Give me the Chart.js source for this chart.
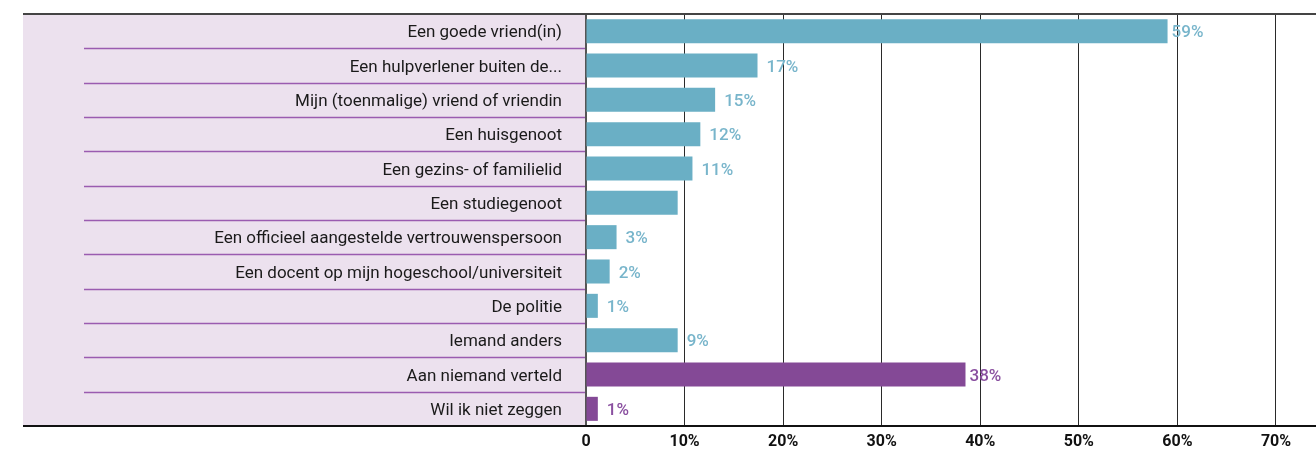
<!DOCTYPE html>
<html>
<head>
<meta charset="utf-8">
<script src="https://cdn.jsdelivr.net/npm/chart.js@4/dist/chart.umd.min.js"></script>
<style>
  html, body { margin: 0; padding: 0; background: #fff; }
  #wrap { width: 1316px; height: 450px; position: relative; }
</style>
</head>
<body>
<div id="wrap"><canvas id="myChart"></canvas></div>
<script>
const categories = [
  "Een goede vriend(in)",
  "Een hulpverlener buiten de...",
  "Mijn (toenmalige) vriend of vriendin",
  "Een huisgenoot",
  "Een gezins- of familielid",
  "Een studiegenoot",
  "Een officieel aangestelde vertrouwenspersoon",
  "Een docent op mijn hogeschool/universiteit",
  "De politie",
  "Iemand anders",
  "Aan niemand verteld",
  "Wil ik niet zeggen"
];
// bar lengths (percent)
const values = [59, 17.4, 13.1, 11.6, 10.8, 9.3, 3.1, 2.4, 1.2, 9.3, 38.5, 1.2];
// value labels as printed next to the bars
const valueLabels = ["59%", "17%", "15%", "12%", "11%", "", "3%", "2%", "1%", "9%", "38%", "1%"];
// which group each row belongs to: told someone / told nobody
const groups = ["told", "told", "told", "told", "told", "told", "told", "told", "told", "told", "none", "none"];
const xTicks = [0, 10, 20, 30, 40, 50, 60, 70];

const barColors = { told: "#6aafc5", none: "#844996" };
const labelColors = { told: "#78b5cb", none: "#8a50a0" };

const panelPlugin = {
  id: "panel",
  beforeDraw(chart) {
    const ctx = chart.ctx;
    const area = chart.chartArea;
    const y = chart.scales.y;
    ctx.save();
    ctx.fillStyle = "#ece1ee";
    ctx.fillRect(23, area.top, area.left - 23, area.bottom - area.top);
    ctx.strokeStyle = "#9a5cb0";
    ctx.lineWidth = 1.5;
    for (let i = 1; i < categories.length; i++) {
      const yy = Math.round((y.getPixelForValue(i - 1) + y.getPixelForValue(i)) / 2) + 0.5;
      ctx.beginPath();
      ctx.moveTo(84, yy);
      ctx.lineTo(area.left - 1, yy);
      ctx.stroke();
    }
    ctx.restore();
  },
  afterDraw(chart) {
    const ctx = chart.ctx;
    const area = chart.chartArea;
    ctx.save();
    ctx.lineWidth = 2;
    ctx.strokeStyle = "#444";
    ctx.beginPath();
    ctx.moveTo(23, area.top);
    ctx.lineTo(chart.width, area.top);
    ctx.stroke();
    ctx.strokeStyle = "#111";
    ctx.beginPath();
    ctx.moveTo(23, area.bottom);
    ctx.lineTo(chart.width, area.bottom);
    ctx.stroke();
    ctx.restore();
  }
};

const valueLabelPlugin = {
  id: "valueLabels",
  afterDatasetsDraw(chart) {
    const ctx = chart.ctx;
    const meta = chart.getDatasetMeta(0);
    ctx.save();
    ctx.font = "500 17px Roboto";
    ctx.textAlign = "left";
    ctx.textBaseline = "middle";
    meta.data.forEach((bar, i) => {
      if (!valueLabels[i]) return;
      ctx.fillStyle = labelColors[groups[i]];
      const offset = values[i] > 30 ? 4 : 9;
      ctx.fillText(valueLabels[i], bar.x + offset, bar.y + 2);
    });
    ctx.restore();
  }
};

const chartCtx = document.getElementById("myChart");
new Chart(chartCtx, {
  type: "bar",
  data: {
    labels: categories,
    datasets: [
      {
        data: values,
        backgroundColor: groups.map(g => barColors[g]),
        borderWidth: 0,
        barPercentage: 0.7,
        categoryPercentage: 1
      }
    ]
  },
  options: {
    indexAxis: "y",
    responsive: true,
    maintainAspectRatio: false,
    animation: false,
    devicePixelRatio: 1,
    layout: { padding: { top: 14, left: 0, right: 0, bottom: 0 } },
    plugins: {
      legend: { display: false },
      tooltip: { enabled: false }
    },
    scales: {
      x: {
        min: 0,
        max: 74.06,
        z: 1,
        afterBuildTicks: (scale) => {
          scale.ticks = xTicks.map(v => ({ value: v }));
        },
        afterFit: (scale) => {
          scale.height = 24;
          scale.paddingLeft = 0;
          scale.paddingRight = 0;
        },
        ticks: {
          color: "#111",
          font: { family: "Roboto", size: 16, weight: "bold" },
          padding: 6,
          maxRotation: 0,
          callback: (v) => v === 0 ? "0" : v + "%"
        },
        grid: { color: "#2a2a2a", lineWidth: 1, drawTicks: false },
        border: { display: false }
      },
      y: {
        afterFit: (scale) => {
          scale.width = 586;
          scale.paddingTop = 0;
          scale.paddingBottom = 0;
        },
        ticks: {
          color: "#1a1a1a",
          font: { family: "Roboto", size: 17 },
          padding: 24,
          labelOffset: 2
        },
        grid: { display: false, drawTicks: false },
        border: { display: true, color: "#555", width: 2 }
      }
    }
  },
  plugins: [panelPlugin, valueLabelPlugin]
});
</script>
</body>
</html>
